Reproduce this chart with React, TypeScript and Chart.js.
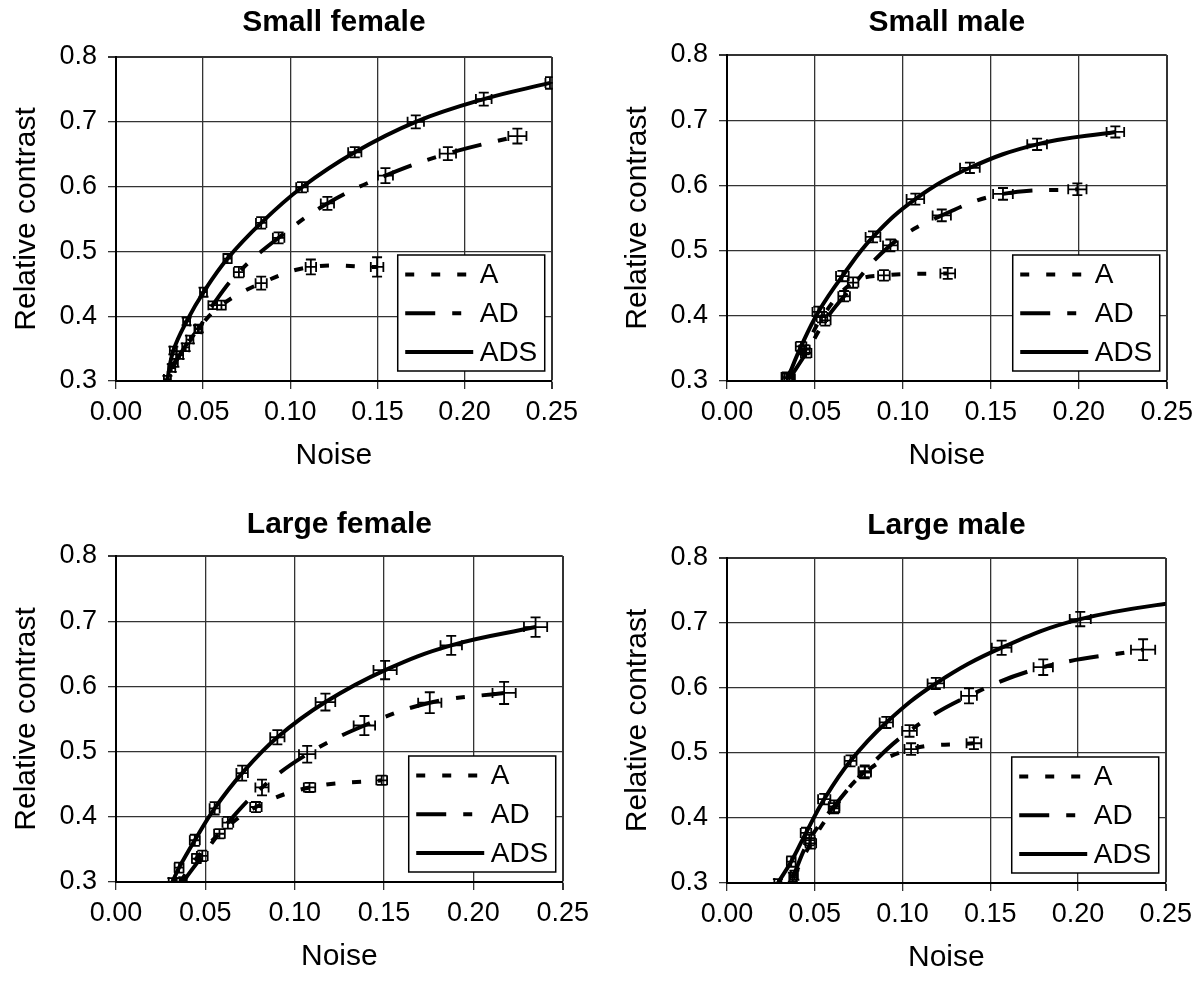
import { useEffect, useRef } from "react"
import { Chart, registerables } from "chart.js"
import type { Plugin } from "chart.js"

Chart.register(...registerables)

const X_TICKS = [0, 0.05, 0.1, 0.15, 0.2, 0.25]
const X_TICK_LABELS = ["0.00", "0.05", "0.10", "0.15", "0.20", "0.25"]
const Y_TICKS = [0.3, 0.4, 0.5, 0.6, 0.7, 0.8]
const Y_TICK_LABELS = ["0.3", "0.4", "0.5", "0.6", "0.7", "0.8"]
const SERIES_NAMES = ["A", "AD", "ADS"]

// rows: [noise, relative contrast, noise error, contrast error]
const SMALL_FEMALE_A = [
  [0.0335, 0.328, 0.002, 0.006],
  [0.04, 0.352, 0.002, 0.006],
  [0.047, 0.38, 0.002, 0.006],
  [0.0605, 0.417, 0.0025, 0.007],
  [0.0833, 0.451, 0.0032, 0.01],
  [0.1118, 0.476, 0.003, 0.0115],
  [0.1498, 0.476, 0.0036, 0.015],
]
const SMALL_FEMALE_AD = [
  [0.032, 0.32, 0.002, 0.006],
  [0.0365, 0.34, 0.002, 0.006],
  [0.0424, 0.364, 0.002, 0.006],
  [0.0475, 0.381, 0.002, 0.006],
  [0.0555, 0.417, 0.0025, 0.006],
  [0.0705, 0.468, 0.0029, 0.008],
  [0.0933, 0.521, 0.0033, 0.0085],
  [0.1213, 0.574, 0.0038, 0.01],
  [0.1546, 0.617, 0.0043, 0.0115],
  [0.1904, 0.651, 0.0047, 0.01],
  [0.2303, 0.678, 0.0052, 0.0115],
]
const SMALL_FEMALE_ADS = [
  [0.0295, 0.303, 0.002, 0.005],
  [0.0329, 0.347, 0.002, 0.006],
  [0.0405, 0.392, 0.002, 0.006],
  [0.0502, 0.437, 0.002, 0.007],
  [0.064, 0.489, 0.0024, 0.007],
  [0.0833, 0.544, 0.003, 0.009],
  [0.1067, 0.599, 0.0033, 0.008],
  [0.137, 0.653, 0.0038, 0.008],
  [0.172, 0.7, 0.0047, 0.01],
  [0.211, 0.735, 0.0045, 0.01],
  [0.249, 0.76, 0.0026, 0.009],
]

const SMALL_MALE_A = [
  [0.034, 0.306, 0.003, 0.007],
  [0.044, 0.348, 0.003, 0.007],
  [0.054, 0.398, 0.003, 0.008],
  [0.0717, 0.451, 0.003, 0.008],
  [0.0892, 0.462, 0.0033, 0.008],
  [0.1255, 0.465, 0.0042, 0.0085],
]
const SMALL_MALE_AD = [
  [0.0356, 0.304, 0.003, 0.007],
  [0.045, 0.343, 0.003, 0.007],
  [0.0559, 0.393, 0.003, 0.008],
  [0.0666, 0.43, 0.0033, 0.008],
  [0.0929, 0.508, 0.0042, 0.009],
  [0.1221, 0.554, 0.0052, 0.009],
  [0.1569, 0.587, 0.0056, 0.009],
  [0.1992, 0.594, 0.0052, 0.009],
]
const SMALL_MALE_ADS = [
  [0.0346, 0.305, 0.003, 0.007],
  [0.0421, 0.353, 0.003, 0.007],
  [0.0519, 0.406, 0.0033, 0.008],
  [0.0656, 0.461, 0.0036, 0.008],
  [0.083, 0.521, 0.0042, 0.0085],
  [0.1071, 0.579, 0.005, 0.0085],
  [0.1381, 0.627, 0.0056, 0.008],
  [0.1763, 0.663, 0.0056, 0.0087],
  [0.2208, 0.682, 0.005, 0.0085],
]

const LARGE_FEMALE_A = [
  [0.036, 0.3, 0.002, 0.006],
  [0.045, 0.336, 0.0025, 0.007],
  [0.0579, 0.374, 0.003, 0.007],
  [0.0783, 0.415, 0.0032, 0.0077],
  [0.1083, 0.445, 0.0032, 0.007],
  [0.1487, 0.456, 0.003, 0.007],
]
const LARGE_FEMALE_AD = [
  [0.0376, 0.301, 0.002, 0.006],
  [0.0483, 0.34, 0.003, 0.008],
  [0.0626, 0.391, 0.003, 0.009],
  [0.0817, 0.445, 0.0037, 0.012],
  [0.107, 0.496, 0.0046, 0.0128],
  [0.139, 0.54, 0.006, 0.0146],
  [0.1756, 0.575, 0.0065, 0.016],
  [0.2172, 0.59, 0.0065, 0.017],
]
const LARGE_FEMALE_ADS = [
  [0.0315, 0.3, 0.002, 0.006],
  [0.0353, 0.322, 0.0025, 0.0077],
  [0.0441, 0.364, 0.0028, 0.0085],
  [0.0552, 0.413, 0.0028, 0.0095],
  [0.0706, 0.467, 0.0032, 0.0115],
  [0.0903, 0.522, 0.004, 0.011],
  [0.1172, 0.576, 0.0055, 0.013],
  [0.1506, 0.625, 0.0065, 0.014],
  [0.1876, 0.663, 0.006, 0.0145],
  [0.2348, 0.691, 0.0065, 0.015],
]

const LARGE_MALE_A = [
  [0.0384, 0.312, 0.002, 0.007],
  [0.0478, 0.361, 0.003, 0.008],
  [0.061, 0.415, 0.003, 0.008],
  [0.0785, 0.47, 0.0035, 0.009],
  [0.1049, 0.506, 0.0038, 0.009],
  [0.1407, 0.515, 0.0042, 0.009],
]
const LARGE_MALE_AD = [
  [0.0375, 0.309, 0.002, 0.007],
  [0.0469, 0.366, 0.003, 0.008],
  [0.061, 0.418, 0.003, 0.009],
  [0.0785, 0.472, 0.0035, 0.009],
  [0.104, 0.534, 0.0042, 0.009],
  [0.1379, 0.588, 0.0045, 0.0116],
  [0.1802, 0.632, 0.0055, 0.012],
  [0.2371, 0.659, 0.0069, 0.016],
]
const LARGE_MALE_ADS = [
  [0.029, 0.3, 0.002, 0.006],
  [0.0366, 0.333, 0.0025, 0.008],
  [0.045, 0.377, 0.003, 0.008],
  [0.0554, 0.429, 0.0035, 0.008],
  [0.0704, 0.488, 0.0034, 0.0085],
  [0.0908, 0.547, 0.0038, 0.0085],
  [0.119, 0.607, 0.0047, 0.0085],
  [0.1565, 0.662, 0.0056, 0.011],
  [0.2013, 0.706, 0.006, 0.011],
  [0.27, 0.738, 0.006, 0.011],
]

const FONT = "'Liberation Sans', Arial, Helvetica, sans-serif"
const DASHES = [[9, 17], [30, 17, 9, 17], []]
const LINE_WIDTH = 4
const CAP = 5

const panels = [
  { title: "Small female", series: [SMALL_FEMALE_A, SMALL_FEMALE_AD, SMALL_FEMALE_ADS], left: 0, top: 0, width: 585, height: 491, titlePad: 5 },
  { title: "Small male", series: [SMALL_MALE_A, SMALL_MALE_AD, SMALL_MALE_ADS], left: 611, top: -2, width: 589, height: 493, titlePad: 7 },
  { title: "Large female", series: [LARGE_FEMALE_A, LARGE_FEMALE_AD, LARGE_FEMALE_ADS], left: 0, top: 499, width: 596, height: 493, titlePad: 8 },
  { title: "Large male", series: [LARGE_MALE_A, LARGE_MALE_AD, LARGE_MALE_ADS], left: 611, top: 501, width: 588, height: 492, titlePad: 7 },
]

// draws x and y error bars with caps for every point
const errorBars: Plugin = {
  id: "errorBars",
  afterDatasetsDraw(chart) {
    const { ctx, chartArea } = chart
    const xs = chart.scales.x
    const ys = chart.scales.y
    ctx.save()
    ctx.beginPath()
    ctx.rect(chartArea.left - 1, chartArea.top - 1, chartArea.width + 2, chartArea.height + 2)
    ctx.clip()
    ctx.strokeStyle = "#000"
    ctx.lineWidth = 1.8
    chart.data.datasets.forEach((ds: any) => {
      ds.rows.forEach(([x, y, ex, ey]: number[]) => {
        const px = xs.getPixelForValue(x)
        const py = ys.getPixelForValue(y)
        const x0 = xs.getPixelForValue(x - ex)
        const x1 = xs.getPixelForValue(x + ex)
        const y0 = ys.getPixelForValue(y - ey)
        const y1 = ys.getPixelForValue(y + ey)
        ctx.beginPath()
        ctx.moveTo(x0, py)
        ctx.lineTo(x1, py)
        ctx.moveTo(x0, py - CAP)
        ctx.lineTo(x0, py + CAP)
        ctx.moveTo(x1, py - CAP)
        ctx.lineTo(x1, py + CAP)
        ctx.moveTo(px, y0)
        ctx.lineTo(px, y1)
        ctx.moveTo(px - CAP, y0)
        ctx.lineTo(px + CAP, y0)
        ctx.moveTo(px - CAP, y1)
        ctx.lineTo(px + CAP, y1)
        ctx.stroke()
      })
    })
    ctx.restore()
  },
}

// boxed legend inside the lower right corner of the plot
const insetLegend: Plugin = {
  id: "insetLegend",
  afterDraw(chart) {
    const { ctx, chartArea } = chart
    const w = 147
    const h = 116
    const left = chartArea.right - 7 - w
    const top = chartArea.bottom - 10 - h
    ctx.save()
    ctx.fillStyle = "#fff"
    ctx.fillRect(left, top, w, h)
    ctx.strokeStyle = "#000"
    ctx.lineWidth = 1.5
    ctx.strokeRect(left, top, w, h)
    chart.data.datasets.forEach((ds: any, i) => {
      const y = top + 19.5 + i * 38.7
      ctx.setLineDash(ds.borderDash)
      ctx.lineWidth = ds.borderWidth
      ctx.beginPath()
      ctx.moveTo(left + 7.5, y)
      ctx.lineTo(left + 75.5, y)
      ctx.stroke()
      ctx.setLineDash([])
      ctx.fillStyle = "#000"
      ctx.font = `28px ${FONT}`
      ctx.textAlign = "left"
      ctx.textBaseline = "middle"
      ctx.fillText(ds.label, left + 82, y + 1)
    })
    ctx.restore()
  },
}

function Panel({ title, series, titlePad }: { title: string; series: number[][][]; titlePad: number }) {
  const chartRef = useRef<HTMLCanvasElement>(null)
  const chartInstance = useRef<Chart | null>(null)

  useEffect(() => {
    if (!chartRef.current) return
    if (chartInstance.current) chartInstance.current.destroy()

    const datasets = series.map((rows, i) => ({
      label: SERIES_NAMES[i],
      data: rows.map((r) => ({ x: r[0], y: r[1] })),
      rows,
      showLine: true,
      borderColor: "#000",
      borderWidth: LINE_WIDTH,
      borderDash: DASHES[i],
      borderCapStyle: "butt" as const,
      tension: 0.4,
      pointRadius: 0,
      pointHoverRadius: 0,
      fill: false,
    }))

    const edgeWidth = (ctx: any) => (ctx.index === 5 ? 2 : 1.3)

    chartInstance.current = new Chart(chartRef.current, {
      type: "scatter",
      data: { datasets },
      plugins: [errorBars, insetLegend],
      options: {
        responsive: true,
        maintainAspectRatio: false,
        animation: false,
        events: [],
        layout: { padding: { left: 0, right: 30, top: 0, bottom: 0 } },
        scales: {
          x: {
            type: "linear",
            min: 0,
            max: 0.25,
            afterBuildTicks: (scale) => {
              scale.ticks = X_TICKS.map((v) => ({ value: v }))
            },
            afterFit: (scale) => {
              scale.height = 110
            },
            ticks: {
              callback: (_v, i) => X_TICK_LABELS[i],
              color: "#000",
              font: { size: 27, family: FONT },
              padding: 7,
              maxRotation: 0,
            },
            grid: { color: "#333", lineWidth: edgeWidth, tickLength: 8 },
            border: { display: true, color: "#000", width: 2 },
            title: {
              display: true,
              text: "Noise",
              color: "#000",
              font: { size: 30, family: FONT },
              padding: { top: 0, bottom: 17 },
            },
          },
          y: {
            type: "linear",
            min: 0.3,
            max: 0.8,
            afterBuildTicks: (scale) => {
              scale.ticks = Y_TICKS.map((v) => ({ value: v }))
            },
            afterFit: (scale) => {
              scale.width = 116
            },
            ticks: {
              callback: (_v, i) => Y_TICK_LABELS[i],
              color: "#000",
              font: { size: 27, family: FONT },
              padding: 11,
            },
            grid: { color: "#333", lineWidth: edgeWidth, tickLength: 8 },
            border: { display: true, color: "#000", width: 2 },
            title: {
              display: true,
              text: "Relative contrast",
              color: "#000",
              font: { size: 30, family: FONT },
              padding: { top: 9, bottom: 0 },
            },
          },
        },
        plugins: {
          legend: { display: false },
          tooltip: { enabled: false },
          title: {
            display: true,
            text: title,
            color: "#000",
            fullSize: false,
            font: { size: 30, weight: "bold", family: FONT },
            padding: { top: titlePad, bottom: 21 - titlePad },
          },
        },
      },
    })

    return () => {
      if (chartInstance.current) {
        chartInstance.current.destroy()
        chartInstance.current = null
      }
    }
  }, [title, series, titlePad])

  return <canvas ref={chartRef}></canvas>
}

export default function App() {
  return (
    <div style={{ position: "absolute", left: 0, top: 0, width: 1203, height: 986, background: "#fff", overflow: "hidden" }}>
      {panels.map((p) => (
        <div key={p.title} style={{ position: "absolute", left: p.left, top: p.top, width: p.width, height: p.height }}>
          <Panel title={p.title} series={p.series} titlePad={p.titlePad} />
        </div>
      ))}
    </div>
  )
}
